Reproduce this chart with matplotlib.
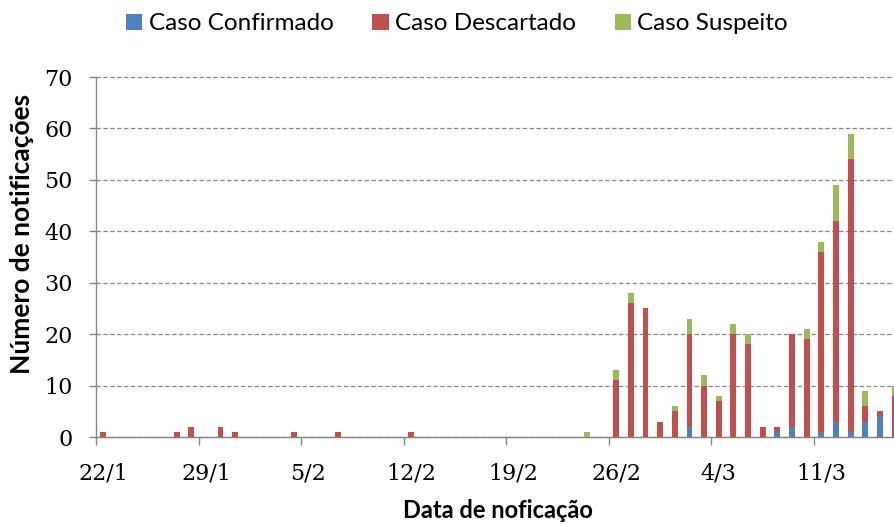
import matplotlib
matplotlib.use("Agg")
import matplotlib.pyplot as plt
from matplotlib.patches import Patch
import numpy as np
import pandas as pd

# ---- data ----
dates = pd.date_range("2020-01-22", periods=55)
categories = [f"{d.day}/{d.month}" for d in dates]

confirmado = [0, 0, 0, 0, 0, 0, 0, 0, 0, 0,
              0, 0, 0, 0, 0, 0, 0, 0, 0, 0,
              0, 0, 0, 0, 0, 0, 0, 0, 0, 0,
              0, 0, 0, 0, 0, 0, 0, 0, 0, 0,
              2, 0, 0, 0, 0, 0, 1, 2, 0, 1,
              3, 1, 3, 4, 0]
descartado = [1, 0, 0, 0, 0, 1, 2, 0, 2, 1,
              0, 0, 0, 1, 0, 0, 1, 0, 0, 0,
              0, 1, 0, 0, 0, 0, 0, 0, 0, 0,
              0, 0, 0, 0, 0, 11, 26, 25, 3, 5,
              18, 10, 7, 20, 18, 2, 1, 18, 19, 35,
              39, 53, 3, 1, 8]
suspeito = [0, 0, 0, 0, 0, 0, 0, 0, 0, 0,
            0, 0, 0, 0, 0, 0, 0, 0, 0, 0,
            0, 0, 0, 0, 0, 0, 0, 0, 0, 0,
            0, 0, 0, 1, 0, 2, 2, 0, 0, 1,
            3, 2, 1, 2, 2, 0, 0, 0, 2, 2,
            7, 5, 3, 0, 2]

series_names = ["Caso Confirmado", "Caso Descartado", "Caso Suspeito"]
colors = ["#4F81BD", "#C0504D", "#9BBB59"]
label_every = 7

# ---- figure ----
W, H = 894, 524
fig = plt.figure(figsize=(W / 100, H / 100), dpi=100)
ax = fig.add_axes([96 / W, 87 / H, 1 - 96 / W, 360 / H])

x = np.arange(len(categories))
c = np.array(confirmado)
d = np.array(descartado)
s = np.array(suspeito)
bw = 0.4
ax.bar(x, c, bw, color=colors[0], linewidth=0, zorder=3)
ax.bar(x, d, bw, bottom=c, color=colors[1], linewidth=0, zorder=3)
ax.bar(x, s, bw, bottom=c + d, color=colors[2], linewidth=0, zorder=3)

ax.set_xlim(-0.5, 53.96)
ax.set_ylim(0, 70)

grey = "#868686"
for sp in ["top", "right"]:
    ax.spines[sp].set_visible(False)
for sp in ["left", "bottom"]:
    ax.spines[sp].set_color(grey)
    ax.spines[sp].set_linewidth(1.0)

ax.set_yticks(np.arange(0, 71, 10))
ax.yaxis.grid(True, color=grey, linestyle=(0, (3.5, 2)), linewidth=0.9, zorder=0)
for gl in ax.yaxis.get_gridlines():
    gl.set_clip_on(False)
ax.tick_params(axis="y", length=5, width=1.0, color=grey, pad=12,
               labelsize=16, labelfontfamily="DejaVu Serif", labelcolor="black")

# major ticks at group boundaries, labels at category centers
ax.set_xticks(np.arange(-0.5, len(categories), label_every))
ax.set_xticklabels([])
ax.set_xticks(x[::label_every], minor=True)
ax.set_xticklabels([categories[i] for i in x[::label_every]], minor=True)
ax.tick_params(axis="x", which="major", length=5.5, width=1.0, color=grey)
ax.tick_params(axis="x", which="minor", length=0, pad=18,
               labelsize=16, labelfontfamily="DejaVu Serif", labelcolor="black")

fig.text(22 / W, 1 - 234 / H, "Número de notificações", rotation=90,
         ha="center", va="center", fontsize=19, fontweight="bold", family="Lato")
fig.text(498 / W, 6 / H, "Data de noficação", ha="center", va="baseline",
         fontsize=17, fontweight="bold", family="Lato")

handles = [Patch(facecolor=col, edgecolor="none") for col in colors]
fig.legend(handles, series_names, loc="center", ncol=3,
           bbox_to_anchor=(457 / W, 1 - 24 / H), frameon=False,
           prop={"family": "Lato", "size": 17.5},
           handlelength=0.68, handleheight=0.68, handletextpad=0.25,
           columnspacing=1.6, borderpad=0, borderaxespad=0)

fig.savefig("out.png", dpi=100)
